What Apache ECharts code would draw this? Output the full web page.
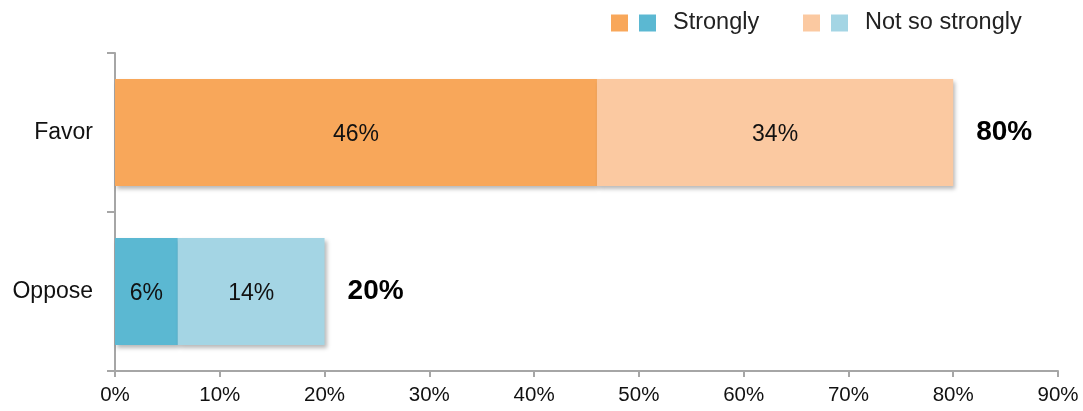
<!DOCTYPE html>
<html>
<head>
<meta charset="utf-8">
<script src="https://cdn.jsdelivr.net/npm/echarts@6/dist/echarts.min.js"></script>
<style>
html,body{margin:0;padding:0;background:#fff;}
#chart{width:1083px;height:411px;}
</style>
</head>
<body>
<div id="chart"></div>
<script>
var categories = ['Favor', 'Oppose'];
var favorStrongly = [46, '-'];
var favorNotSo = [34, '-'];
var opposeStrongly = ['-', 6];
var opposeNotSo = ['-', 14];
var totals = [80, 20];
var totalLabels = ['80%', '20%'];
var xTicks = [0, 10, 20, 30, 40, 50, 60, 70, 80, 90];

var FONT = '"Liberation Sans", Arial, Helvetica, sans-serif';
var shadow = {shadowBlur: 4, shadowOffsetX: 2, shadowOffsetY: 3, shadowColor: 'rgba(0,0,0,0.28)'};
function seg(name, data, color) {
  return {
    name: name, type: 'bar', stack: 'all', data: data, barWidth: 107,
    itemStyle: Object.assign({color: color}, shadow),
    label: {show: true, position: 'inside', offset: [0, 2], formatter: '{c}%', color: '#111', fontSize: 23, fontFamily: FONT},
    emphasis: {disabled: true}
  };
}
var chart = echarts.init(document.getElementById('chart'), null, {renderer: 'canvas'});
chart.setOption({
  animation: false,
  textStyle: {fontFamily: FONT},
  grid: {left: 115, right: 25, top: 53, bottom: 40},
  legend: [
    {
      left: 611, top: 11, padding: 0, itemWidth: 17, itemHeight: 17, itemGap: 11, selectedMode: false,
      textStyle: {fontSize: 23.5, color: '#222', fontFamily: FONT},
      data: [
        {name: 'Favor strongly', icon: 'rect'},
        {name: 'Oppose strongly', icon: 'rect', textStyle: {padding: [0, 0, 0, 12]}}
      ],
      formatter: function (n) { return n === 'Oppose strongly' ? 'Strongly' : ''; }
    },
    {
      left: 803, top: 11, padding: 0, itemWidth: 17, itemHeight: 17, itemGap: 11, selectedMode: false,
      textStyle: {fontSize: 23.5, color: '#222', fontFamily: FONT},
      data: [
        {name: 'Favor not so strongly', icon: 'rect'},
        {name: 'Oppose not so strongly', icon: 'rect', textStyle: {padding: [0, 0, 0, 12]}}
      ],
      formatter: function (n) { return n === 'Oppose not so strongly' ? 'Not so strongly' : ''; }
    }
  ],
  xAxis: {
    type: 'value', min: xTicks[0], max: xTicks[xTicks.length - 1], interval: 10,
    axisLine: {show: true, lineStyle: {color: '#a6a6a6', width: 2}},
    axisTick: {show: true, length: 6, lineStyle: {color: '#a6a6a6', width: 2}},
    splitLine: {show: false},
    axisLabel: {formatter: '{value}%', color: '#111', fontSize: 20.5, margin: 14, fontFamily: FONT}
  },
  yAxis: {
    type: 'category', data: categories, inverse: true,
    axisLine: {show: true, lineStyle: {color: '#a6a6a6', width: 2}},
    axisTick: {show: true, length: 8, alignWithLabel: false, lineStyle: {color: '#a6a6a6', width: 2}},
    axisLabel: {color: '#111', fontSize: 23, margin: 22, fontFamily: FONT}
  },
  series: [
    seg('Favor strongly', favorStrongly, '#f8a75a'),
    seg('Favor not so strongly', favorNotSo, '#fbc9a1'),
    seg('Oppose strongly', opposeStrongly, '#5bb8d2'),
    seg('Oppose not so strongly', opposeNotSo, '#a4d5e4'),
    {
      name: 'Total', type: 'bar', stack: 'all', barWidth: 107,
      data: totals.map(function () { return 0; }),
      itemStyle: {color: 'rgba(0,0,0,0)'},
      label: {
        show: true, position: 'right', distance: 23,
        formatter: function (p) { return totalLabels[p.dataIndex]; },
        color: '#000', fontSize: 28, fontWeight: 'bold', fontFamily: FONT
      },
      emphasis: {disabled: true}
    }
  ]
});
</script>
</body>
</html>
